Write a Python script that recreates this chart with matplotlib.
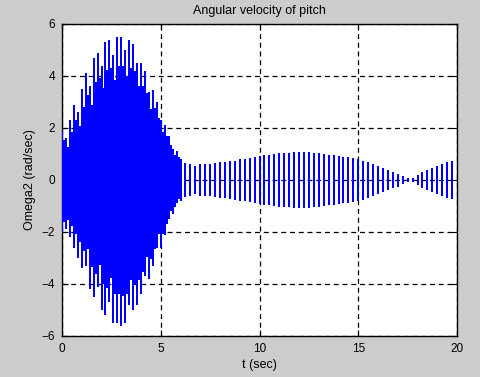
import numpy as np
import matplotlib.pyplot as plt

# Peak heights per oscillation cycle.
# Start-up burst (0 - 6 s), one cycle every 0.2 s
cycle_a = 0.2
upper_a = [1.9, 1.6, 2.3, 2.9, 2.6, 3.5, 4.1, 3.6, 4.7, 4.9,
           4.4, 5.3, 5.4, 4.8, 5.5, 5.5, 5.0, 5.4, 5.25, 4.5,
           4.5, 4.2, 3.4, 3.45, 3.0, 2.3, 2.1, 1.7, 1.2, 1.1]
lower_a = [2.0, 1.9, 2.2, 2.6, 3.0, 3.4, 3.3, 4.2, 4.5, 4.1,
           5.0, 5.2, 4.7, 5.5, 5.5, 5.6, 5.5, 4.8, 5.0, 4.8,
           4.4, 3.7, 3.8, 3.3, 2.6, 2.6, 2.1, 1.5, 1.3, 0.9]
inner = 0.8  # height of the in-between swings, as part of the peak

# Slow beat (6 - 20 s), one cycle every 0.25 s
cycle_b = 0.25
amp_b = [0.80, 0.65, 0.60, 0.55, 0.60, 0.60, 0.62, 0.65,
         0.68, 0.70, 0.72, 0.75, 0.80, 0.82, 0.85, 0.88,
         0.92, 0.95, 0.97, 1.00, 1.02, 1.04, 1.05, 1.06,
         1.07, 1.07, 1.06, 1.05, 1.03, 1.00, 0.98, 0.95,
         0.92, 0.90, 0.87, 0.83, 0.80, 0.75, 0.68, 0.62,
         0.55, 0.48, 0.40, 0.32, 0.25, 0.15, 0.06, 0.08,
         0.20, 0.30, 0.38, 0.45, 0.53, 0.62, 0.68, 0.74]

xticks = [0, 5, 10, 15, 20]
yticks = [-6, -4, -2, 0, 2, 4, 6]

upper_a = np.array(upper_a)
lower_a = np.array(lower_a)
amp_b = np.array(amp_b)
t_a = np.arange(len(upper_a)) * cycle_a
t_b = 6.0 + np.arange(len(amp_b)) * cycle_b

plt.rcParams['font.family'] = ['Liberation Sans', 'DejaVu Sans']
plt.rcParams['font.size'] = 8.5

fig = plt.figure(figsize=(4.81, 3.77), dpi=100, facecolor='#cccccc')
ax = fig.add_axes([62 / 481, 41 / 377, 395 / 481, 312 / 377])
ax.set_facecolor('white')

# the trace swings faster than one pixel, so each cycle shows up as a bar
blue = '#0000ff'
ax.vlines(t_a, -lower_a, upper_a, colors=blue, linewidth=1.2,
          antialiased=False, zorder=3)
ax.vlines(t_a + cycle_a / 2, -inner * lower_a, inner * upper_a, colors=blue,
          linewidth=1.2, antialiased=False, zorder=3)
ax.vlines(t_b, -amp_b, amp_b, colors=blue, linewidth=1.4,
          antialiased=False, zorder=3)

ax.set_xlim(0, 20)
ax.set_ylim(-6, 6)
ax.set_xticks(xticks)
ax.set_yticks(yticks)
ax.grid(True, color='black', linestyle=(0, (4, 3)), linewidth=0.9, zorder=1)
ax.set_axisbelow(True)
ax.tick_params(direction='in', length=4, top=True, right=True, pad=5)
for sp in ax.spines.values():
    sp.set_linewidth(1.0)

ax.set_title('Angular velocity of pitch', fontsize=9, pad=7)
ax.set_xlabel('t (sec)', fontsize=9, labelpad=3)
ax.set_ylabel('Omega2 (rad/sec)', fontsize=9, labelpad=4)

plt.savefig('out.png', dpi=100, facecolor=fig.get_facecolor())
